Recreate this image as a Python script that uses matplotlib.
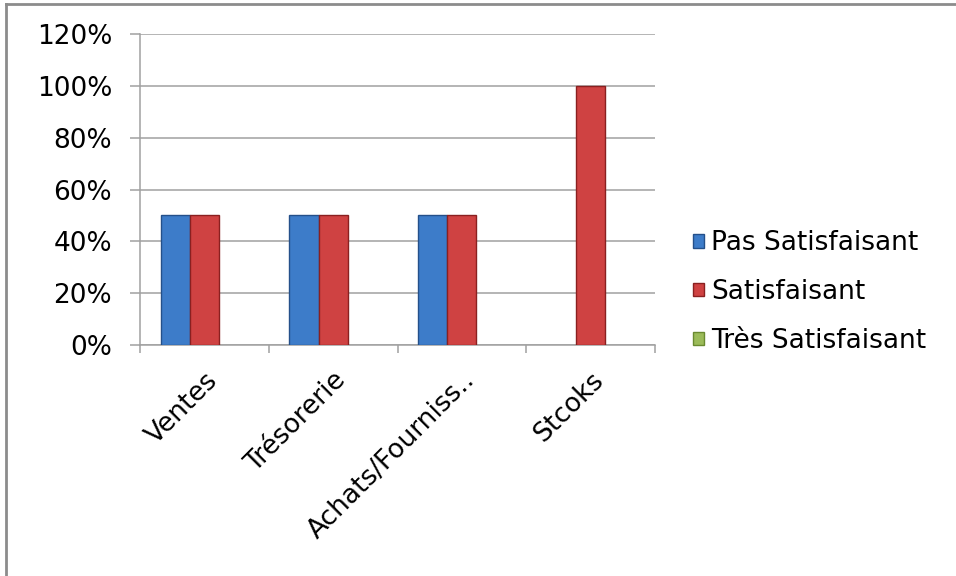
import numpy as np
import matplotlib.pyplot as plt
from matplotlib.lines import Line2D
from matplotlib.patches import Patch
from matplotlib.ticker import PercentFormatter

# Catégories et pourcentages par niveau de satisfaction
categories = ["Ventes", "Trésorerie", "Achats/Fourniss..", "Stcoks"]
pas_satisfaisant = [50, 50, 50, 0]
satisfaisant = [50, 50, 50, 100]
tres_satisfaisant = [0, 0, 0, 0]
series_noms = ["Pas Satisfaisant", "Satisfaisant", "Très Satisfaisant"]
yticks = [0, 20, 40, 60, 80, 100, 120]

couleurs = ["#3d7cc9", "#cf4242", "#9bbb59"]
bords = ["#24508a", "#8a2020", "#6a8a30"]
gris = '#a0a0a0'

plt.rcParams['font.family'] = ['DejaVu Sans']

fig = plt.figure(figsize=(9.56, 5.76), dpi=100)
ax = fig.add_axes([140/956, 1 - 345/576, 515/956, 311/576])

x = np.arange(len(categories))
w = 0.226
for k, vals in enumerate([pas_satisfaisant, satisfaisant, tres_satisfaisant]):
    # pas de contour pour les barres nulles
    lw = [1.0 if v > 0 else 0 for v in vals]
    ax.bar(x + (k - 1) * w, vals, width=w, color=couleurs[k],
           edgecolor=bords[k], linewidth=lw, zorder=3)

ax.set_xlim(-0.5, len(categories) - 0.5)
ax.set_ylim(0, 120)
ax.set_yticks(yticks)
ax.yaxis.set_major_formatter(PercentFormatter(decimals=0))
ax.grid(axis='y', color=gris, linewidth=1.1, zorder=0)

# ticks de l'axe x aux frontières des catégories
ax.set_xticks(np.arange(-0.5, len(categories)), minor=False)
ax.set_xticklabels([])
ax.set_xticks(x, minor=True)
ax.set_xticklabels(categories, minor=True, rotation=45, ha='right',
                   rotation_mode='anchor', fontsize=19)
ax.tick_params(axis='x', which='minor', length=0, pad=16)
ax.tick_params(axis='x', which='major', length=6, color=gris, width=1.1)
ax.tick_params(axis='y', length=7, color=gris, width=1.1, labelsize=19, pad=13)

for s in ['top', 'right']:
    ax.spines[s].set_visible(False)
for s in ['left', 'bottom']:
    ax.spines[s].set_color(gris)
    ax.spines[s].set_linewidth(1.1)

handles = [Patch(facecolor=couleurs[k], edgecolor=bords[k]) for k in range(3)]
fig.legend(handles, series_noms, loc='center left', bbox_to_anchor=(693/956, 1 - 292/576),
           frameon=False, fontsize=19, handlelength=0.4, handleheight=0.4,
           handletextpad=0.3, labelspacing=0.86, borderpad=0, borderaxespad=0)

# cadre du graphique
fig.add_artist(Line2D([6/956, 6/956], [0, 1 - 4/576], color='#8c8c8c', linewidth=2))
fig.add_artist(Line2D([6/956, 1], [1 - 4/576, 1 - 4/576], color='#8c8c8c', linewidth=2))

fig.savefig("out.png", dpi=100)
